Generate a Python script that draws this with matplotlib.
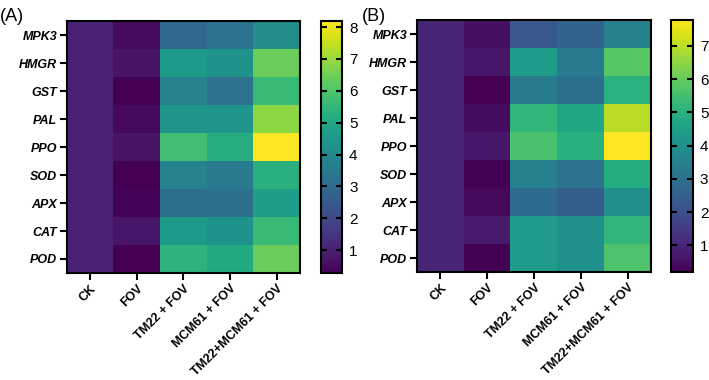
import numpy as np
import matplotlib
matplotlib.use("Agg")
import matplotlib.pyplot as plt

plt.rcParams['font.family'] = ['Liberation Sans', 'DejaVu Sans']

genes = ["MPK3", "HMGR", "GST", "PAL", "PPO", "SOD", "APX", "CAT", "POD"]
treatments = ["CK", "FOV", "TM22 + FOV", "MCM61 + FOV", "TM22+MCM61 + FOV"]

# panel A values (rows = genes, cols = treatments)
vals_a = [
    [1.0, 0.5, 3.0, 3.3, 4.2],
    [1.0, 0.7, 4.6, 4.3, 6.4],
    [1.0, 0.28, 3.8, 3.3, 5.6],
    [1.0, 0.45, 4.4, 4.4, 6.85],
    [1.0, 0.7, 5.8, 5.2, 8.19],
    [1.0, 0.3, 3.8, 3.5, 5.3],
    [1.0, 0.35, 3.2, 3.2, 4.7],
    [1.0, 0.75, 4.6, 4.3, 5.6],
    [1.0, 0.3, 5.4, 5.1, 6.4],
]
# panel B values
vals_b = [
    [1.0, 0.5, 2.25, 2.6, 3.5],
    [1.0, 0.65, 4.4, 3.3, 5.8],
    [1.0, 0.2, 3.3, 3.0, 5.05],
    [1.0, 0.45, 5.2, 4.75, 7.0],
    [1.0, 0.65, 5.6, 5.0, 7.78],
    [1.0, 0.25, 3.5, 3.1, 4.9],
    [1.0, 0.35, 2.85, 2.5, 4.0],
    [1.0, 0.75, 4.4, 4.0, 5.2],
    [1.0, 0.25, 4.4, 4.0, 5.65],
]
cbar_ticks_a = [1, 2, 3, 4, 5, 6, 7, 8]
cbar_ticks_b = [1, 2, 3, 4, 5, 6, 7]

fig = plt.figure(figsize=(7.09, 3.80), dpi=100)


def panel(ax_rect, cb_rect, data, ticks, label, label_x):
    ax = fig.add_axes(ax_rect)
    data = np.array(data)
    im = ax.imshow(data, cmap="viridis", aspect="auto", interpolation="nearest")
    ax.set_xticks(range(len(treatments)))
    ax.set_xticklabels(treatments, rotation=45, ha="right", rotation_mode="anchor",
                       fontsize=9, fontweight="bold")
    ax.set_yticks(range(len(genes)))
    ax.set_yticklabels(genes, fontsize=9, fontweight="bold", fontstyle="italic")
    ax.tick_params(width=1.5, length=5, pad=2)
    for s in ax.spines.values():
        s.set_linewidth(1.5)
    cax = fig.add_axes(cb_rect)
    cb = fig.colorbar(im, cax=cax, ticks=ticks)
    cb.outline.set_linewidth(1.5)
    cax.tick_params(labelsize=11, width=1.5, length=4, direction="in",
                    left=True, right=True, labelleft=False, pad=5)
    fig.text(label_x, 0.945, label, fontsize=13)
    return ax


panel([0.0945, 0.2816, 0.3286, 0.663], [0.4528, 0.2816, 0.0296, 0.663],
      vals_a, cbar_ticks_a, "(A)", 0.0)
panel([0.5882, 0.2842, 0.330, 0.663], [0.9464, 0.2842, 0.031, 0.663],
      vals_b, cbar_ticks_b, "(B)", 0.511)

fig.savefig("out.png", dpi=100)
